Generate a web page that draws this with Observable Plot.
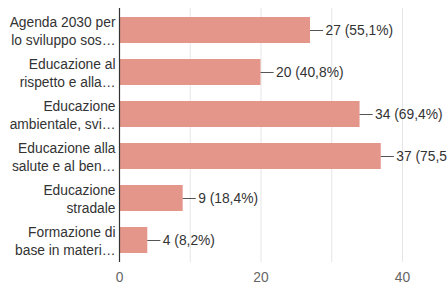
<!DOCTYPE html>
<html>
<head>
<meta charset="utf-8">
<script src="https://cdn.jsdelivr.net/npm/d3@7"></script>
<script src="https://cdn.jsdelivr.net/npm/@observablehq/plot@0.6"></script>
<style>
  html, body { margin: 0; padding: 0; background: #fff; overflow: hidden; }
  #chart { width: 447px; height: 285px; overflow: hidden; }
</style>
</head>
<body>
<div id="chart"></div>
<script>
const categories = [
  "Agenda 2030 per\nlo sviluppo sos…",
  "Educazione al\nrispetto e alla…",
  "Educazione\nambientale, svi…",
  "Educazione alla\nsalute e al ben…",
  "Educazione\nstradale",
  "Formazione di\nbase in materi…"
];
const counts = [27, 20, 34, 37, 9, 4];
const percents = ["55,1%", "40,8%", "69,4%", "75,5%", "18,4%", "8,2%"];
const xTicks = [0, 20, 40];
const xGrid = [10, 20, 30, 40];

const data = categories.map((c, i) => ({cat: c, v: counts[i], label: `${counts[i]} (${percents[i]})`}));

const chart = Plot.plot({
  width: 447,
  height: 285,
  marginLeft: 119,
  marginRight: 45,
  marginTop: 8,
  marginBottom: 23,
  style: {fontFamily: "Liberation Sans, Arial, sans-serif", fontSize: "13.8px", color: "#333"},
  x: {domain: [0, 40]},
  y: {domain: categories, paddingInner: 0.384, paddingOuter: 0.213},
  marks: [
    Plot.ruleX(xGrid, {stroke: "#e6e6e6", strokeWidth: 1}),
    Plot.barX(data, {y: "cat", x: "v", fill: "#e5968b"}),
    Plot.ruleY(data, {y: "cat", x1: "v", x2: d => d.v + 1.85, stroke: "#555", strokeWidth: 1}),
    Plot.text(data, {y: "cat", x: "v", text: "label", dx: 15, textAnchor: "start", fill: "#333", fontSize: 13.8}),
    Plot.ruleX([0], {stroke: "#333", strokeWidth: 1.2}),
    Plot.axisX(xTicks, {tickSize: 0, tickPadding: 10, fontSize: 13.8, fill: "#666", label: null}),
    Plot.axisY({tickSize: 0, tickPadding: 4, fontSize: 13.8, fill: "#333", lineHeight: 1.24, label: null})
  ]
});
document.getElementById("chart").append(chart);
</script>
</body>
</html>
